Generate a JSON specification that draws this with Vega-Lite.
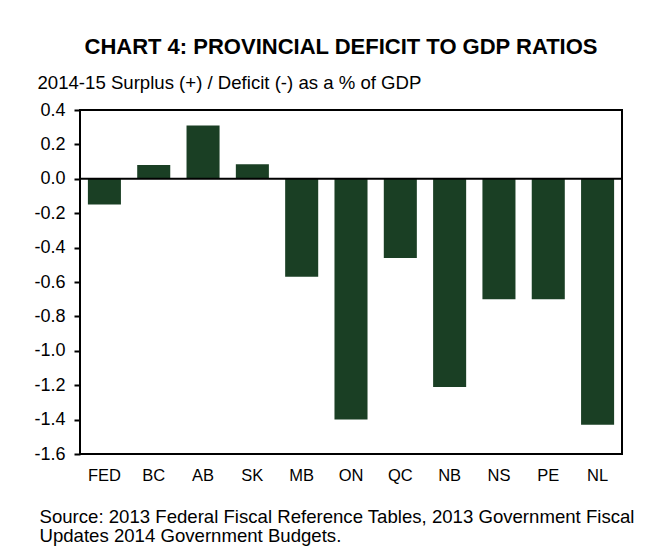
{
  "$schema": "https://vega.github.io/schema/vega-lite/v6.json",
  "autosize": "none",
  "width": 542,
  "height": 344,
  "padding": {"left": 80, "top": 110, "right": 43, "bottom": 102},
  "background": "white",
  "config": {
    "font": "Liberation Sans",
    "view": {"stroke": "black", "strokeWidth": 2},
    "axisY": {"tickCount": 10}
  },
  "title": {
    "text": "CHART 4: PROVINCIAL DEFICIT TO GDP RATIOS",
    "anchor": "middle",
    "fontSize": 22,
    "fontWeight": "bold",
    "font": "Liberation Sans",
    "color": "black",
    "dx": -10,
    "offset": 14
  },
  "data": {
    "values": [
      {"region": "FED", "value": -0.15},
      {"region": "BC", "value": 0.08},
      {"region": "AB", "value": 0.31},
      {"region": "SK", "value": 0.085},
      {"region": "MB", "value": -0.57},
      {"region": "ON", "value": -1.40},
      {"region": "QC", "value": -0.46},
      {"region": "NB", "value": -1.21},
      {"region": "NS", "value": -0.70},
      {"region": "PE", "value": -0.70},
      {"region": "NL", "value": -1.43}
    ]
  },
  "layer": [
    {
      "mark": {"type": "bar", "color": "#1a3f24"},
      "encoding": {
        "x": {
          "field": "region",
          "type": "nominal",
          "sort": null,
          "scale": {"paddingInner": 0.33, "paddingOuter": 0.16},
          "axis": {
            "title": ["Source: 2013 Federal Fiscal Reference Tables, 2013 Government Fiscal", "Updates 2014 Government Budgets."],
            "titleX": -41,
            "titleY": 68,
            "titleAlign": "left",
            "titleAnchor": "start",
            "titleBaseline": "alphabetic",
            "titleFontSize": 18.6,
            "titleFontWeight": "normal",
            "titleLineHeight": 19.5,
            "titleColor": "black",
            "labelAngle": 0,
            "labelFontSize": 16.5,
            "labelColor": "black",
            "labelPadding": 13,
            "ticks": false,
            "domain": false
          }
        },
        "y": {
          "field": "value",
          "type": "quantitative",
          "scale": {"domain": [-1.6, 0.4], "nice": false, "zero": false},
          "axis": {
            "tickCount": 10,
            "labelExpr": "replace(format(datum.value, '.1f'), '\u2212', '-')",
            "labelOverlap": false,
            "labelFlush": false,
            "grid": false,
            "domain": false,
            "tickColor": "black",
            "tickWidth": 2,
            "tickSize": 6,
            "labelFontSize": 18,
            "labelColor": "black",
            "labelPadding": 9,
            "title": "2014-15 Surplus (+) / Deficit (-) as a % of GDP",
            "titleAngle": 0,
            "titleX": -43,
            "titleY": -22,
            "titleAlign": "left",
            "titleBaseline": "alphabetic",
            "titleFontSize": 18.6,
            "titleFontWeight": "normal",
            "titleColor": "black"
          }
        }
      }
    },
    {
      "data": {"values": [{"zero": 0}]},
      "mark": {"type": "rule", "color": "black", "strokeWidth": 2},
      "encoding": {"y": {"field": "zero", "type": "quantitative"}}
    }
  ]
}
